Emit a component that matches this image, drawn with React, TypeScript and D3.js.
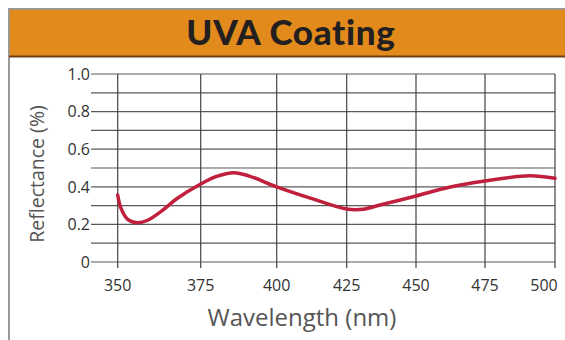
import React from "react";
import * as d3 from "d3";

// Reflectance curve
const wavelength = [350, 351, 353, 356, 359, 363, 368, 375, 380, 386, 391, 400, 412, 425, 431, 437, 450, 462, 475, 491, 500];
const reflectance = [0.356, 0.285, 0.227, 0.209, 0.222, 0.268, 0.339, 0.415, 0.454, 0.475, 0.457, 0.4, 0.34, 0.282, 0.281, 0.303, 0.351, 0.398, 0.431, 0.459, 0.445];

const xTicks = [350, 375, 400, 425, 450, 475, 500];
const yMajor = [0, 0.2, 0.4, 0.6, 0.8, 1.0];
const yLabels = ["0", "0.2", "0.4", "0.6", "0.8", "1.0"];
const yMinor = [0.1, 0.3, 0.5, 0.7, 0.9];

const title = "UVA Coating";
const xTitle = "Wavelength (nm)";
const yTitle = "Reflectance (%)";

const W = 565;
const H = 340;

export default function App() {
  // the original's x spacing is uneven, so use a piecewise scale
  const x = d3
    .scaleLinear()
    .domain(xTicks)
    .range([117.7, 200.7, 276.7, 346.7, 416, 485, 555]);
  const y = d3.scaleLinear().domain([0, 1]).range([262, 74]);

  const line = d3
    .line<number>()
    .x((_, i) => x(wavelength[i]))
    .y((d) => y(d))
    .curve(d3.curveCatmullRom.alpha(0.5));

  const gridLeft = 91;
  const gridRight = 555;
  const font = "'Open Sans', sans-serif";

  return (
    <svg
      width={W}
      height={H}
      style={{ position: "absolute", left: 0, top: 0, background: "#fff" }}
    >
      {/* frame */}
      <rect x={9} y={9} width={W} height={H} fill="#fff" stroke="#7a7a7a" strokeWidth={1.5} />
      <rect x={9.75} y={9.75} width={W} height={46.5} fill="#E28B1C" />
      <line x1={9} x2={W} y1={56.5} y2={56.5} stroke="#6e4012" strokeWidth={1.8} />
      <text
        x={291}
        y={45}
        textAnchor="middle"
        fontFamily="Lato, sans-serif"
        fontWeight={900}
        fontSize={35}
        letterSpacing={0.7}
        fill="#231F20"
      >
        {title}
      </text>

      {/* horizontal grid */}
      {yMinor.concat(yMajor).map((v) => (
        <line
          key={"h" + v}
          x1={gridLeft}
          x2={gridRight}
          y1={y(v)}
          y2={y(v)}
          stroke="#5a5a5a"
          strokeWidth={1.2}
        />
      ))}
      {/* vertical grid */}
      {xTicks.map((t) => (
        <line
          key={"v" + t}
          x1={x(t)}
          x2={x(t)}
          y1={y(1)}
          y2={y(0) + 6}
          stroke="#444"
          strokeWidth={1.2}
        />
      ))}

      {/* y tick labels */}
      {yMajor.map((v, i) => (
        <text
          key={"yl" + v}
          x={90}
          y={y(v)}
          dy="0.36em"
          textAnchor="end"
          fontFamily={font}
          fontSize={16}
          fill="#333"
        >
          {yLabels[i]}
        </text>
      ))}
      {/* x tick labels, last one pulled in so it fits */}
      {xTicks.map((t) => (
        <text
          key={"xl" + t}
          x={Math.min(x(t), W - 21)}
          y={290.5}
          textAnchor="middle"
          fontFamily={font}
          fontSize={16}
          fill="#333"
        >
          {t}
        </text>
      ))}

      <text
        x={302}
        y={326}
        textAnchor="middle"
        fontFamily={font}
        fontSize={24}
        fill="#555"
      >
        {xTitle}
      </text>
      <text
        transform={`translate(43.5,174) rotate(-90)`}
        textAnchor="middle"
        fontFamily={font}
        fontSize={19.5}
        fill="#555"
      >
        {yTitle}
      </text>

      <path
        d={line(reflectance) ?? ""}
        fill="none"
        stroke="#C0203D"
        strokeWidth={3.5}
        strokeLinecap="round"
      />
    </svg>
  );
}
